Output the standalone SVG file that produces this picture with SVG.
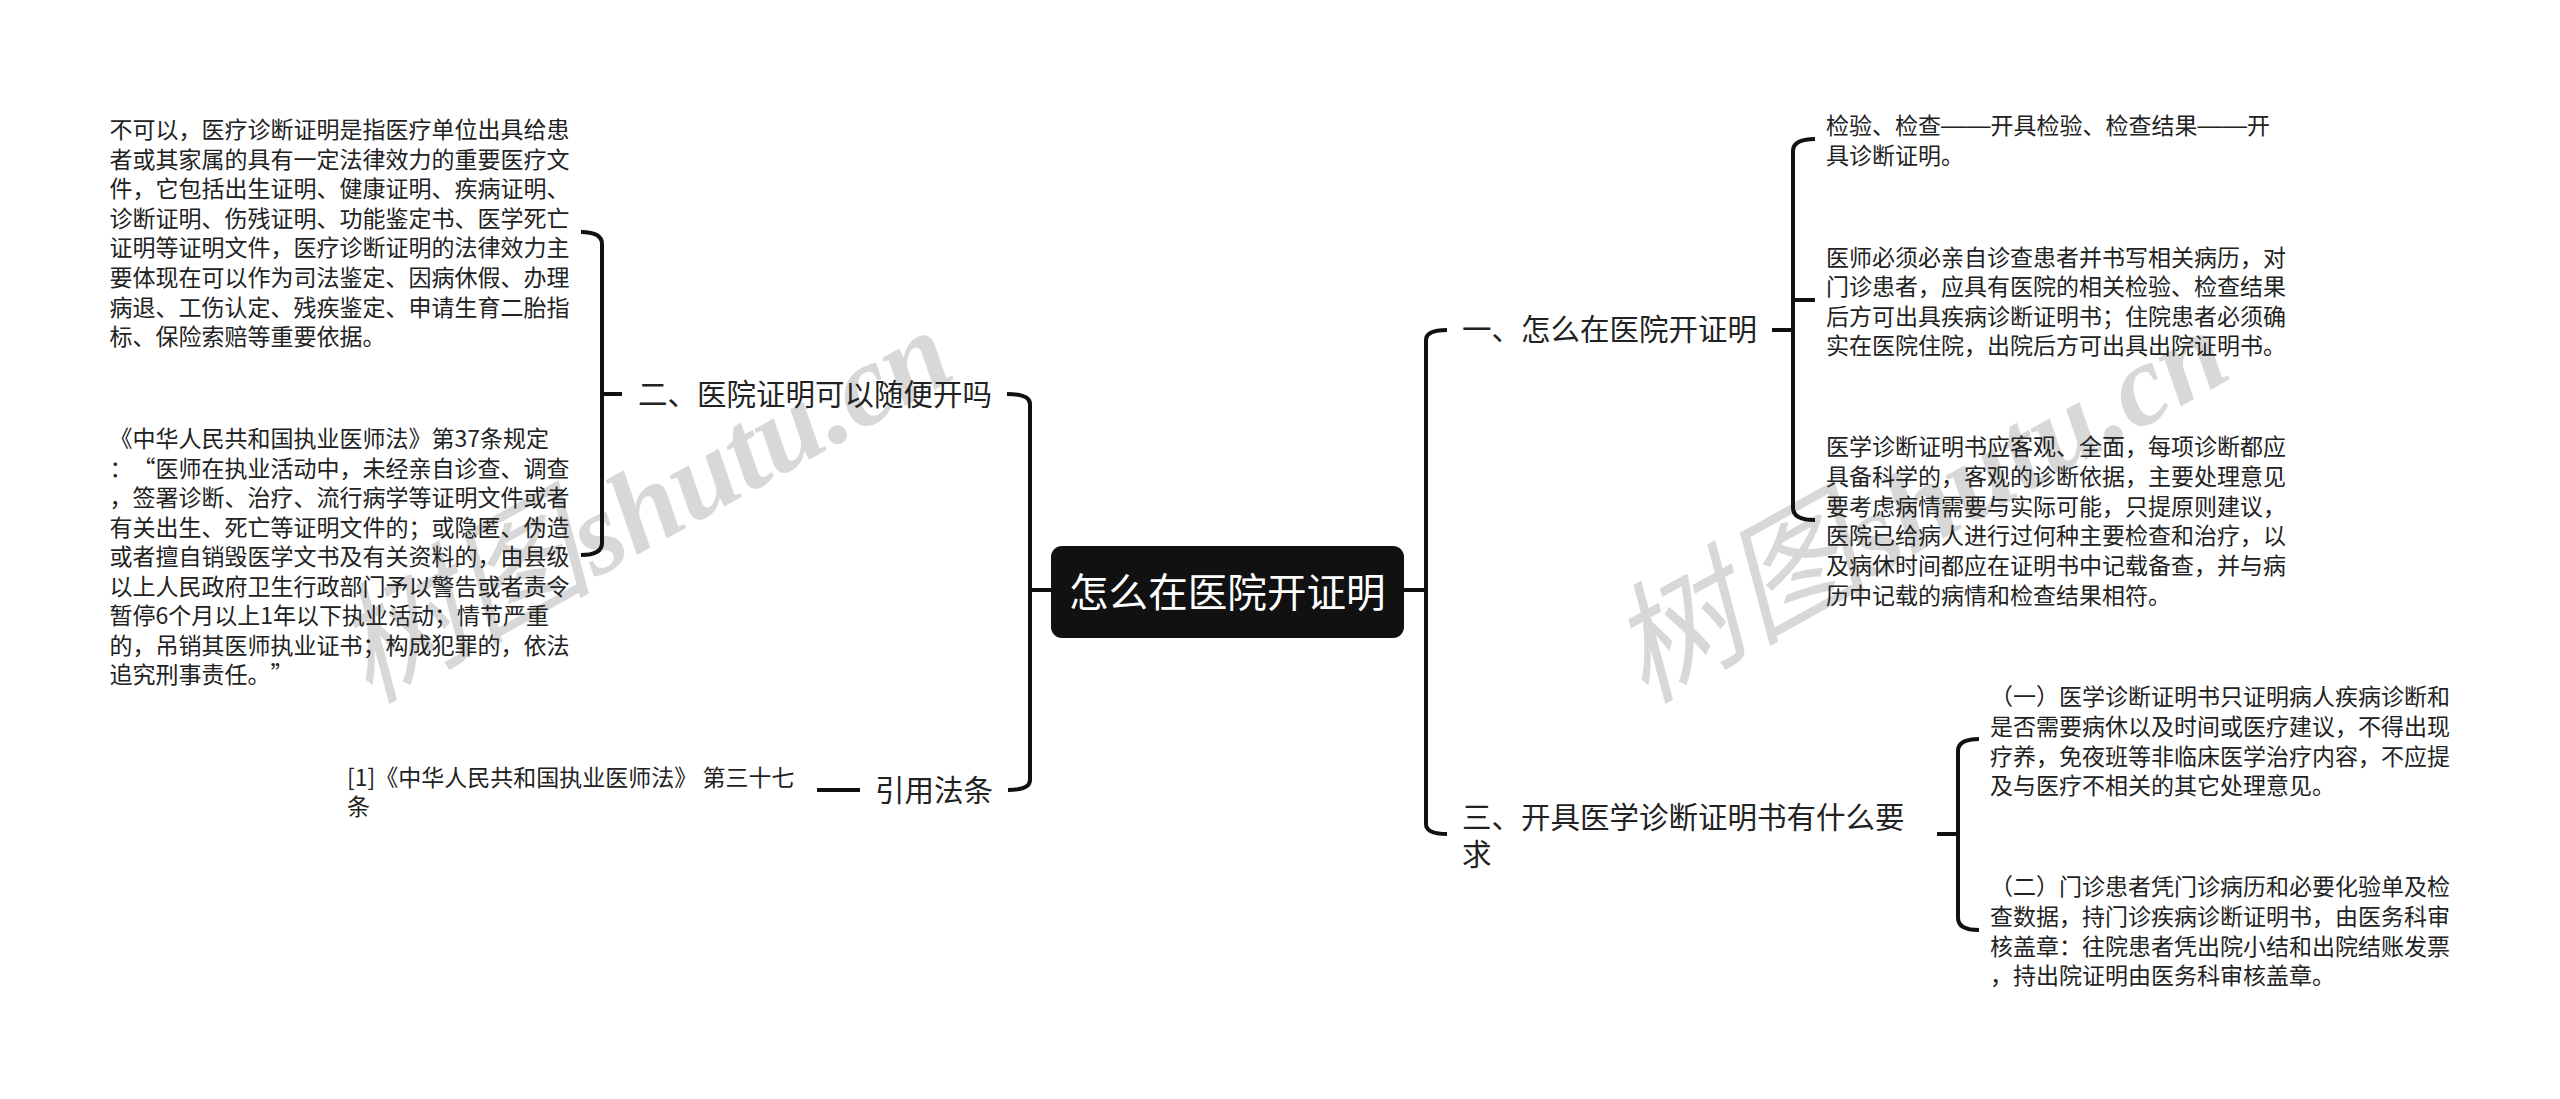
<svg xmlns="http://www.w3.org/2000/svg" width="2560" height="1099" viewBox="0 0 2560 1099">
<style>
text{font-family:"Noto Sans CJK SC","Noto Sans",sans-serif;fill:#222;dominant-baseline:central;text-spacing-trim:space-all;font-kerning:none}
.c{fill:none;stroke:#111;stroke-width:4;stroke-linecap:butt}
.l{font-size:23px}
.b{font-size:29.5px}
.r{font-size:39.6px;fill:#fff}
.d{font-family:"Liberation Sans",sans-serif;font-size:24.75px}
.w{font-family:"Noto Sans CJK SC",serif;font-style:italic;font-size:130px;fill:#d8d8d8;dominant-baseline:auto}
.w tspan{font-family:"Liberation Serif",serif;font-weight:bold;font-size:116px}
</style>
<rect width="2560" height="1099" fill="#fff"/>
<g id="watermarks">
<text class="w" transform="translate(368 704) rotate(-29)">树图<tspan>shutu.cn</tspan></text>
<text class="w" transform="translate(1644 704) rotate(-29)">树图<tspan>shutu.cn</tspan></text>
</g>
<g id="connectors">
<path class="c" d="M1051 590H1030M1030 590V404Q1030 394 1007 394M1030 590V780Q1030 790 1008 790"/>
<path class="c" d="M1404 590H1426M1426 590V340Q1426 330 1447 330M1426 590V824Q1426 834 1447 834"/>
<path class="c" d="M622 394H602M581 232Q602 232 602 244V543Q602 555 581 555"/>
<path class="c" d="M817 790H860"/>
<path class="c" d="M1772 330H1793M1815 139Q1793 139 1793 151V508Q1793 520 1815 520M1793 300H1815"/>
<path class="c" d="M1937 834H1958M1979 739Q1958 739 1958 751V918Q1958 930 1979 930"/>
</g>
<g id="root"><rect x="1051" y="546" width="353" height="92" rx="11" fill="#111"/><text class="r" x="1069" y="589">怎么在医院开证明</text></g>
<g id="n1"><text class="b" x="1462" y="327">一、怎么在医院开证明</text></g>
<g id="n2"><text class="b" x="638" y="392">二、医院证明可以随便开吗</text></g>
<g id="n3"><text class="b" x="1462" y="815">三、开具医学诊断证明书有什么要</text><text class="b" x="1462" y="852">求</text></g>
<g id="n4"><text class="b" x="875" y="788">引用法条</text></g>
<g id="l1">
<text class="l" x="109.5" y="128">不可以，医疗诊断证明是指医疗单位出具给患</text>
<text class="l" x="109.5" y="157.6">者或其家属的具有一定法律效力的重要医疗文</text>
<text class="l" x="109.5" y="187.2">件，它包括出生证明、健康证明、疾病证明、</text>
<text class="l" x="109.5" y="216.8">诊断证明、伤残证明、功能鉴定书、医学死亡</text>
<text class="l" x="109.5" y="246.4">证明等证明文件，医疗诊断证明的法律效力主</text>
<text class="l" x="109.5" y="276">要体现在可以作为司法鉴定、因病休假、办理</text>
<text class="l" x="109.5" y="305.6">病退、工伤认定、残疾鉴定、申请生育二胎指</text>
<text class="l" x="109.5" y="335.2">标、保险索赔等重要依据。</text>
</g>
<g id="l2">
<text class="l" x="109.5" y="437">《中华人民共和国执业医师法》第37条规定</text>
<text class="l" x="109.5" y="466.5">：“医师在执业活动中，未经亲自诊查、调查</text>
<text class="l" x="109.5" y="496">，签署诊断、治疗、流行病学等证明文件或者</text>
<text class="l" x="109.5" y="525.5">有关出生、死亡等证明文件的；或隐匿、伪造</text>
<text class="l" x="109.5" y="555">或者擅自销毁医学文书及有关资料的，由县级</text>
<text class="l" x="109.5" y="584.5">以上人民政府卫生行政部门予以警告或者责令</text>
<text class="l" x="109.5" y="614">暂停6个月以上1年以下执业活动；情节严重</text>
<text class="l" x="109.5" y="643.5">的，吊销其医师执业证书；构成犯罪的，依法</text>
<text class="l" x="109.5" y="673">追究刑事责任。”</text>
</g>
<g id="l3">
<text class="l" x="347" y="776">[1]《中华人民共和国执业医师法》 第三十七</text>
<text class="l" x="347" y="805">条</text>
</g>
<g id="r1">
<text class="l" x="1826" y="124">检验、检查<tspan class="d">——</tspan>开具检验、检查结果<tspan class="d">——</tspan>开</text>
<text class="l" x="1826" y="154">具诊断证明。</text>
</g>
<g id="r2">
<text class="l" x="1826" y="255.5">医师必须必亲自诊查患者并书写相关病历，对</text>
<text class="l" x="1826" y="285">门诊患者，应具有医院的相关检验、检查结果</text>
<text class="l" x="1826" y="314.5">后方可出具疾病诊断证明书；住院患者必须确</text>
<text class="l" x="1826" y="344">实在医院住院，出院后方可出具出院证明书。</text>
</g>
<g id="r3">
<text class="l" x="1826" y="445">医学诊断证明书应客观、全面，每项诊断都应</text>
<text class="l" x="1826" y="474.8">具备科学的，客观的诊断依据，主要处理意见</text>
<text class="l" x="1826" y="504.6">要考虑病情需要与实际可能，只提原则建议，</text>
<text class="l" x="1826" y="534.4">医院已给病人进行过何种主要检查和治疗，以</text>
<text class="l" x="1826" y="564.2">及病休时间都应在证明书中记载备查，并与病</text>
<text class="l" x="1826" y="594">历中记载的病情和检查结果相符。</text>
</g>
<g id="r4">
<text class="l" x="1990" y="695">（一）医学诊断证明书只证明病人疾病诊断和</text>
<text class="l" x="1990" y="724.8">是否需要病休以及时间或医疗建议，不得出现</text>
<text class="l" x="1990" y="754.6">疗养，免夜班等非临床医学治疗内容，不应提</text>
<text class="l" x="1990" y="784.4">及与医疗不相关的其它处理意见。</text>
</g>
<g id="r5">
<text class="l" x="1990" y="885">（二）门诊患者凭门诊病历和必要化验单及检</text>
<text class="l" x="1990" y="914.8">查数据，持门诊疾病诊断证明书，由医务科审</text>
<text class="l" x="1990" y="944.6">核盖章：往院患者凭出院小结和出院结账发票</text>
<text class="l" x="1990" y="974.4">，持出院证明由医务科审核盖章。</text>
</g>
</svg>
